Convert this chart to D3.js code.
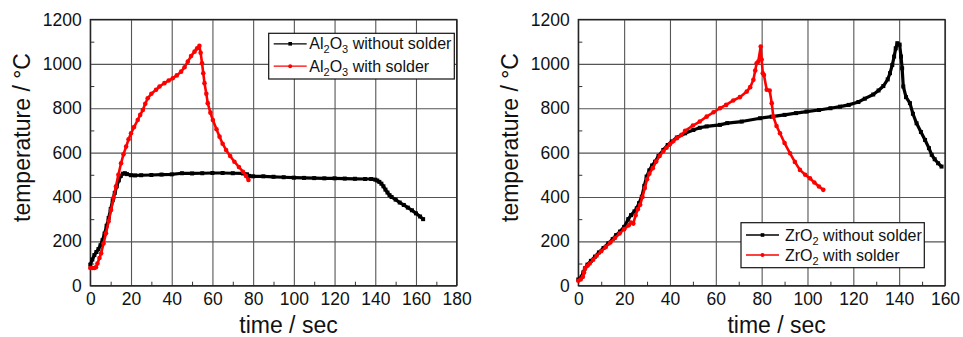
<!DOCTYPE html>
<html><head><meta charset="utf-8">
<script src="https://cdn.jsdelivr.net/npm/d3@7"></script>
<style>
body{margin:0;background:#fff;}
text{font-family:"Liberation Sans",Arial,Helvetica,sans-serif;fill:#111;}
</style></head>
<body><svg id="c" width="963" height="337"></svg>
<script>
// ---------- data ----------
const yTicks = [0,200,400,600,800,1000,1200];
const xTicksLeft = [0,20,40,60,80,100,120,140,160,180];
const xTicksRight = [0,20,40,60,80,100,120,140,160];
const xTitle = "time / sec";
const yTitle = "temperature / °C";
const legendLeft = [["Al","2","O","3"," without solder"],["Al","2","O","3"," with solder"]];
const legendRight = [["ZrO","2",""," without solder"],["ZrO","2",""," with solder"]];

// Al2O3 without solder [time s, temperature °C]
const alWithout = [[0,95],[1,118],[2,138],[3,152],[4,165],[5,182],[6,205],[7,235],[8,270],[9,305],[10,345],[11,385],[12,418],[13,448],[14,475],[15,495],[16,505],[17,507],[18,503],[20,498],[22,497],[25,498],[30,499],[35,501],[40,502],[45,507],[50,506],[55,507],[60,508],[65,508],[70,507],[75,506],[77,502],[78,495],[80,493],[85,493],[90,491],[95,489],[100,487],[105,486],[110,485],[115,484],[120,484],[125,483],[130,482],[135,481],[138,481],[140,478],[141,474],[142,468],[143,460],[144,448],[145,433],[146,420],[147,408],[148,400],[150,388],[152,375],[154,364],[156,352],[158,340],[160,326],[162,312],[163.5,300]];
// Al2O3 with solder
const alWith = [[0,80],[1,80],[2,80],[2.8,83],[3.5,100],[4.5,125],[5.3,146],[6.5,190],[7.7,236],[9,290],[10.2,341],[11.4,395],[12.6,447],[13.8,500],[15.1,552],[16.3,592],[17.6,627],[18.8,660],[20,687],[21.5,715],[23.3,747],[24.5,770],[25.8,792],[27,820],[28.2,845],[30,865],[32.3,883],[34,898],[36.4,913],[38.5,925],[40.5,935],[42.5,948],[44.6,965],[46.3,985],[47.9,1010],[49.5,1035],[51.2,1055],[52.5,1070],[53.6,1081],[54.2,1050],[54.9,1003],[55.5,958],[56.1,913],[57,865],[57.7,823],[59,780],[60.2,747],[62,705],[63.5,672],[65,640],[66.7,612],[68.7,585],[70.8,559],[73,535],[75,514],[76.5,495],[77.7,477]];
// ZrO2 without solder
const zrWithout = [[0,28],[1,33],[1.5,41],[2.2,60],[2.9,78],[4,95],[5.5,112],[7.3,131],[9,150],[11,170],[13.1,191],[15,210],[16.5,228],[18.2,244],[20,265],[21.8,300],[23,318],[24.5,335],[25.5,349],[26.5,372],[27.7,401],[28.8,450],[29.8,492],[31,520],[32.2,542],[33.5,559],[35,585],[37.1,612],[39,634],[40.8,650],[43,668],[46.6,687],[50.2,702],[53,712],[56,718],[61.8,725],[65,733],[71.3,740],[79.3,755],[84.4,762],[90,770],[95,778],[99.6,785],[105,792],[110,800],[114.2,807],[118,815],[122.2,828],[125,843],[128.7,862],[131,880],[133.1,900],[135,930],[136,958],[137,995],[137.8,1033],[138.5,1070],[139.2,1093],[140.2,1087],[140.8,1033],[141.3,980],[141.8,898],[143,850],[144.7,823],[146,775],[147.6,732],[149.5,693],[151.3,657],[153,620],[154.2,590],[155.5,570],[157,552],[158.5,537]];
// ZrO2 with solder
const zrWith = [[0,22],[1,28],[2,40],[2.5,60],[3,78],[4,90],[5,100],[6.5,117],[8,135],[10,155],[12,175],[14,195],[16,215],[18,235],[20,255],[22,272],[23,285],[24,280],[25,318],[26,345],[27,365],[28,400],[29,440],[30,480],[31,505],[32.5,530],[34,560],[35.5,585],[37,605],[38.5,622],[40,638],[41.5,652],[43,665],[45,680],[46.6,698],[50,722],[53,740],[56,762],[59,782],[61.8,800],[64.5,815],[67.6,835],[70.5,850],[73.5,875],[75,895],[76.4,928],[77.2,970],[77.8,1003],[78.5,1010],[79.6,1078],[80,1020],[80.5,958],[81,950],[82.2,883],[83.5,880],[84.4,823],[85.1,762],[86.5,720],[88,687],[90,643],[92.4,597],[94.5,558],[96.7,522],[99,500],[101.1,484],[103,465],[105,447],[106.9,432]];

// ---------- drawing ----------
const svg = d3.select("#c");
const TOP = 19.5, BOT = 285.7;
const fmt = d3.format("d");

function panel(o){
  const x = d3.scaleLinear().domain(o.xDomain).range(o.xRange);
  const y = d3.scaleLinear().domain([0,1200]).range([BOT,TOP]);
  const g = svg.append("g");
  const ph = BOT-TOP, pw = o.xRange[1]-o.xRange[0];
  // grid
  g.append("g").attr("transform",`translate(0,${BOT})`)
    .call(d3.axisBottom(x).tickValues(o.xTicks).tickSize(-ph).tickFormat(""))
    .call(s=>{s.select(".domain").remove(); s.selectAll("line").attr("stroke","#555").attr("stroke-width",1.1);});
  g.append("g").attr("transform",`translate(${o.xRange[0]},0)`)
    .call(d3.axisLeft(y).tickValues(yTicks).tickSize(-pw).tickFormat(""))
    .call(s=>{s.select(".domain").remove(); s.selectAll("line").attr("stroke","#555").attr("stroke-width",1.1);});
  // minor ticks (inward)
  const xMinor = d3.range(o.xDomain[0]+10,o.xDomain[1],20);
  g.append("g").attr("transform",`translate(0,${BOT})`)
    .call(d3.axisBottom(x).tickValues(xMinor).tickSize(-4).tickFormat(""))
    .call(s=>{s.select(".domain").remove(); s.selectAll("line").attr("stroke","#333");});
  g.append("g").attr("transform",`translate(${o.xRange[0]},0)`)
    .call(d3.axisLeft(y).tickValues(d3.range(100,1200,200)).tickSize(-4).tickFormat(""))
    .call(s=>{s.select(".domain").remove(); s.selectAll("line").attr("stroke","#333");});
  // frame
  g.append("rect").attr("x",o.xRange[0]).attr("y",TOP).attr("width",pw).attr("height",ph)
    .attr("fill","none").attr("stroke","#222").attr("stroke-width",1.3);
  // tick labels
  g.append("g").attr("transform",`translate(0,${BOT})`)
    .call(d3.axisBottom(x).tickValues(o.xTicks).tickFormat(fmt).tickSize(0).tickPadding(7))
    .call(s=>{s.select(".domain").remove(); s.selectAll("text").attr("font-size","17.5px").attr("fill","#111").attr("font-family",null);});
  g.append("g").attr("transform",`translate(${o.xRange[0]},0)`)
    .call(d3.axisLeft(y).tickValues(yTicks).tickFormat(fmt).tickSize(0).tickPadding(8.5))
    .call(s=>{s.select(".domain").remove(); s.selectAll("text").attr("font-size","17.5px").attr("fill","#111").attr("font-family",null);});
  // titles
  g.append("text").attr("x",(o.xRange[0]+o.xRange[1])/2+15).attr("y",333)
    .attr("text-anchor","middle").attr("font-size","23px").text(xTitle);
  g.append("text").attr("transform",`translate(${o.yTitleX},137.5) rotate(-90)`)
    .attr("text-anchor","middle").attr("font-size","23px").text(yTitle);
  // series
  const line = d3.line().x(d=>x(d[0])).y(d=>y(d[1]));
  const series = [{d:o.black,c:"#000",m:"sq",w:3.2},{d:o.red,c:"#ff0000",m:"ci",w:2.6}];
  series.forEach(s=>{
    g.append("path").datum(s.d).attr("d",line).attr("fill","none")
      .attr("stroke",s.c).attr("stroke-width",s.w).attr("stroke-linejoin","round");
    if(s.m==="sq"){
      g.selectAll(null).data(s.d).enter().append("rect")
        .attr("x",d=>x(d[0])-2).attr("y",d=>y(d[1])-2).attr("width",4).attr("height",4).attr("fill",s.c);
    } else {
      g.selectAll(null).data(s.d).enter().append("circle")
        .attr("cx",d=>x(d[0])).attr("cy",d=>y(d[1])).attr("r",2.3).attr("fill",s.c);
    }
  });
  // legend
  const L = o.legend;
  g.append("rect").attr("x",L.x).attr("y",L.y).attr("width",L.w).attr("height",L.h)
    .attr("fill","#fff").attr("stroke","#111").attr("stroke-width",1.2);
  o.legendLabels.forEach((parts,i)=>{
    const cy = L.y + L.r0 + i*L.dr;
    const col = i===0?"#000":"#ff0000";
    g.append("line").attr("x1",L.x+5).attr("x2",L.x+38).attr("y1",cy).attr("y2",cy).attr("stroke",col).attr("stroke-width",1.3);
    const mx = L.x+21.5;
    if(i===0) g.append("rect").attr("x",mx-1.8).attr("y",cy-1.8).attr("width",3.6).attr("height",3.6).attr("fill",col);
    else g.append("circle").attr("cx",mx).attr("cy",cy).attr("r",2).attr("fill",col);
    const t = g.append("text").attr("x",L.x+L.tx).attr("y",cy+5.5).attr("font-size","16px");
    t.append("tspan").text(parts[0]);
    t.append("tspan").attr("dy",4).attr("font-size","11px").text(parts[1]);
    if(parts[2]){
      t.append("tspan").attr("dy",-4).text(parts[2]);
      t.append("tspan").attr("dy",4).attr("font-size","11px").text(parts[3]);
      t.append("tspan").attr("dy",-4).text(parts[4]);
    } else {
      t.append("tspan").attr("dy",-4).text(parts[3]);
    }
  });
}

panel({xDomain:[0,180], xRange:[90.3,456.7], xTicks:xTicksLeft, black:alWithout, red:alWith,
  yTitleX:30, legendLabels:legendLeft,
  legend:{x:268.7,y:33.3,w:185.6,h:45.7,r0:10.5,dr:22.4,tx:40.6}});
panel({xDomain:[0,160], xRange:[578.3,945], xTicks:xTicksRight, black:zrWithout, red:zrWith,
  yTitleX:518, legendLabels:legendRight,
  legend:{x:741,y:222.7,w:183.3,h:45,r0:12.3,dr:20,tx:44}});
</script></body></html>
